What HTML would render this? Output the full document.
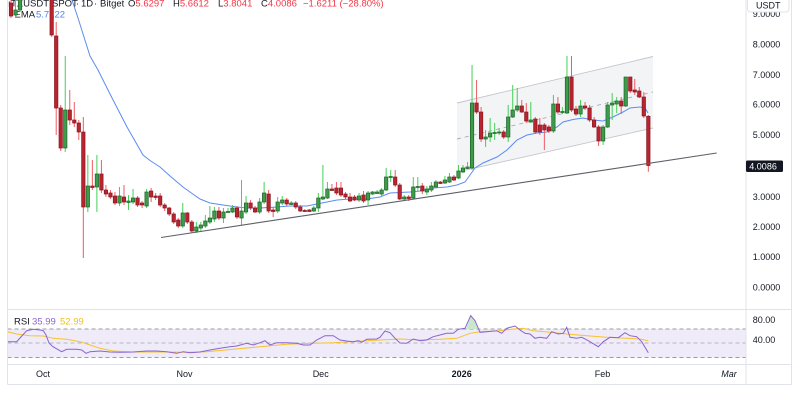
<!DOCTYPE html>
<html><head><meta charset="utf-8">
<style>
html,body{margin:0;padding:0;background:#fff;width:800px;height:400px;overflow:hidden}
svg{display:block;font-family:"Liberation Sans",sans-serif}
</style></head>
<body>
<svg id="s" width="800" height="400" viewBox="0 0 800 400" xmlns="http://www.w3.org/2000/svg">
<defs>
<clipPath id="main"><rect x="7.5" y="0" width="738.5" height="309"/></clipPath>
<clipPath id="rsi"><rect x="7.5" y="310" width="738.5" height="54"/></clipPath>
</defs>
<rect x="0" y="0" width="800" height="400" fill="#fff"/>

<!-- header legend (under candles) -->
<g font-size="9.5" fill="#131722">
<text x="8" y="6.5">ı</text>
<text x="49" y="6.5" text-anchor="end">TXUSDT</text>
<text x="52" y="6.5">SPOT</text>
<text x="76" y="6.5">·</text>
<text x="81" y="6.5">1D</text>
<text x="94" y="6.5">·</text>
<text x="100" y="6.5">Bitget</text>
<text x="128" y="6.5">O<tspan fill="#f23645">5.6297</tspan></text>
<text x="173" y="6.5">H<tspan fill="#f23645">5.6612</tspan></text>
<text x="218" y="6.5">L<tspan fill="#f23645">3.8041</tspan></text>
<text x="261" y="6.5">C<tspan fill="#f23645">4.0086</tspan></text>
<text x="303" y="6.5" fill="#f23645">−1.6211 (−28.80%)</text>
<text x="14.5" y="17.5">EMA</text>
<text x="36" y="17.5" fill="#4f7ff0">5.7122</text>
</g>

<g clip-path="url(#main)">
  <!-- channel -->
  <polygon points="457,103 653,56.5 653,128 457,172" fill="#f3f4f6"/>
  <line x1="457" y1="103" x2="653" y2="56.5" stroke="#c3c5cb" stroke-width="0.9"/>
  <line x1="457" y1="172" x2="653" y2="128" stroke="#c3c5cb" stroke-width="0.9"/>
  <line x1="457" y1="139" x2="653" y2="92" stroke="#a9acb4" stroke-width="0.9" stroke-dasharray="4 4"/>
  <!-- EMA -->
  <polyline fill="none" stroke="#5b8cf2" stroke-width="1" points="72,0 78,18 84,37 90,56 98,70 110,94 127,127 143,155 150,160.5 160,167 170,176 183,187 190,192 200,199 210,203 223,205 237,207 247,208 260,208 277,207 290,206 307,206 317,204 327,202 337,200 350,199 367,199 380,197 390,193 400,192.5 410,192 420,191 433,188 447,187 457,185 465,182 470,175 475,168 483,163 497,157 507,150 517,140 527,135 537,133 547,132 557,127 563,122 573,119.5 583,118 593,120 603,121 613,117 623,112 630,108 640,107 645,108 648,113"/>
  <g id="candles"></g>
  <!-- trend line -->
  <line x1="161" y1="237.5" x2="716.7" y2="153" stroke="#5d6068" stroke-width="1.1"/>
</g>

<!-- RSI pane -->
<g clip-path="url(#rsi)">
  <rect x="7.5" y="329" width="738.5" height="28.5" fill="#efebf8"/>
  <line x1="7.5" y1="329" x2="746" y2="329" stroke="#9a9ca5" stroke-dasharray="4 3"/>
  <line x1="7.5" y1="343" x2="746" y2="343" stroke="#b4b6bd" stroke-dasharray="4 3"/>
  <line x1="7.5" y1="357.5" x2="746" y2="357.5" stroke="#9a9ca5" stroke-dasharray="4 3"/>
  <polygon points="466,329 470.7,315.7 475,320.7 477.5,329" fill="#c9e8cb"/>
  <polyline fill="none" stroke="#f7c32e" stroke-width="1" points="7,331.7 16.7,334 30,335.7 43.3,336 53.3,338.3 66.7,339.3 80,341.7 90,345 100,348.3 113.3,351 133.3,352 166.7,352 186.7,352.3 206.7,351.7 233.3,349.3 260,346.7 286.7,344.3 313.3,343.3 333.3,342.7 366.7,340.7 400,339 420,340 440,339.3 456.7,338.3 470,333.3 480,331.7 500,330.7 513.3,329 523.3,328.3 533.3,330.7 550,332.3 566.7,334 586.7,335.7 606.7,337.3 626.7,338.3 640,339 648.3,340.7"/>
  <polyline fill="none" stroke="#8a64cf" stroke-width="1" points="7,341.7 16.7,341.7 20,338 26.7,330.7 33.3,329.3 40,330 43.3,330.7 46,335 49,343 53,346.7 61.7,351.7 66.7,349.3 76.7,349.3 81.7,350 86,353.3 90,351.7 100,351 110,352 120,352.3 133,352 146.7,351 156.7,351 166.7,351.7 176.7,353.3 183.3,351.7 190,352.7 200,352 210,350 220,348.3 230,346.7 236.7,346 246.7,343.3 253.3,345 260,342.7 265,340.7 270,345 276.7,342.7 286.7,342.7 296.7,343.3 303.3,345 310,345 316.7,340 325,335.7 333.3,335.7 340,340 346.7,341 353.3,341.7 358.3,340.7 361.7,342.3 366.7,339.3 376.7,339 380,337.3 385,331 390,332.7 395,338.3 400,343 406.7,343.3 413.3,339 420,340.7 426.7,340 433.3,336.7 440,335 446.7,333.3 453.3,333.3 458.3,329.3 465,328.3 470.7,315.7 475,320.7 480,332.3 486.7,331.7 496.7,330.7 501.7,333.3 506.7,328.3 515,326 520,330 525,333.3 530,334 535,338.3 540,337.3 546.7,338.3 551.7,331.7 558.3,334 563.3,333.3 566.7,327.3 570,337.3 576.7,338.3 581.7,337.3 588.3,340.7 598.3,346.7 603.3,341.7 610,337.3 618.3,337.7 625,332.7 630,335.7 636.7,336.7 641.7,341.7 648.3,352.7"/>
</g>
<g font-size="9.5">
<text x="14" y="324.5" fill="#131722">RSI</text>
<text x="32" y="324.5" fill="#8a64cf">35.99</text>
<text x="60" y="324.5" fill="#f2bf1f">52.99</text>
</g>

<!-- borders -->
<g stroke="#e0e3eb" stroke-width="1">
<line x1="7.5" y1="0" x2="7.5" y2="384.5"/>
<line x1="746" y1="0" x2="746" y2="384.5"/>
<line x1="791.5" y1="0" x2="791.5" y2="384.5"/>
<line x1="7.5" y1="309.5" x2="791.5" y2="309.5"/>
<line x1="7.5" y1="364.5" x2="791.5" y2="364.5"/>
<line x1="7.5" y1="384.5" x2="791.5" y2="384.5"/>
</g>

<!-- price axis -->
<g font-size="9" fill="#131722">
<text x="752.7" y="17">9.0000</text>
<text x="752.7" y="47.5">8.0000</text>
<text x="752.7" y="78">7.0000</text>
<text x="752.7" y="107.5">6.0000</text>
<text x="752.7" y="138">5.0000</text>
<text x="752.7" y="199.8">3.0000</text>
<text x="752.7" y="229.8">2.0000</text>
<text x="752.7" y="259.8">1.0000</text>
<text x="752.7" y="290.4">0.0000</text>
<text x="752.7" y="323.2">80.00</text>
<text x="752.7" y="343.2">40.00</text>
</g>
<rect x="747.5" y="-3" width="41.5" height="15" rx="3" fill="#fff" stroke="#e0e3eb"/>
<text x="768.3" y="8.5" font-size="9" fill="#131722" text-anchor="middle">USDT</text>
<rect x="746" y="160.5" width="37" height="11.5" rx="1.5" fill="#131722"/>
<text x="749.3" y="169.5" font-size="9" fill="#fff">4.0086</text>

<!-- time axis -->
<g font-size="9" fill="#131722" text-anchor="middle">
<text x="43" y="377">Oct</text>
<text x="184.5" y="377">Nov</text>
<text x="320.7" y="377">Dec</text>
<text x="461.7" y="377" font-weight="bold">2026</text>
<text x="602.5" y="377">Feb</text>
<text x="729" y="377" font-style="italic">Mar</text>
</g>
</svg>
<script>
(function(){
var d=[
['r',3,16,0,18],['g',10,15,0,18],['g',-5,10,-10,12],['g',-40,-10,-50,-5],['r',-40,-20,-50,-15],['g',-60,-30,-70,-25],['r',-60,-30,-70,-25],['g',-70,-40,-80,-35],['r',-70,-20,-80,-15],
['r',-20,35,-30,37],['r',36,108,22,135],['r',108,148,105,151],['g',110,148,56,152],['r',110,120,90,125],['r',120,123,102,127],['r',123,132,120,140],['r',132,207,117,258],['g',186,207,155,212],['r',186,187.5,160,190],['g',174,187,155,212],
['r',174,190,160,193],['r',190,194,185,197],['r',193,197,190,199],['r',196,203,192,205],['g',196,203,187,206],['r',197,202,185,205],['g',201,202.5,195,210],['g',198,202,189,204],['r',198,205,196,207],['r',203,205,201,208],
['g',192,206,189,208],['r',191,197,188,202],['r',196,197.5,193,200],['r',196,205,193,207],['r',205,208,203,211],['r',208,214,207,216],['r',214,222,212,224],['r',220,226,218,228],['g',213,226,203,228],['r',213,222,212,224],
['r',222,231,220,233],['g',227,231,222,233],['g',225,228,222,232],['g',221,226,215,228],['g',218,222,206,224],['g',211,219,207,222],['r',211,218,207,220],['g',212,218,208,223],['g',211.5,212.5,208,213],['g',208,212,205,213],
['r',208,217,206,219],['g',211,218,180,225],['g',203,212,196,214],['r',203,208,200,210],['r',208,212,206,213],['g',202,212,198,214],['g',193,202,182,204],['r',194,211,190,213],['r',210,211.5,207,217],['g',202,211,197,213],
['g',200,203,196,205],['r',200,204,198,206],['g',203,204.5,201,205],['r',203,207,201,209],['r',207,211,205,212],['r',210.5,211.5,209,212],['r',210,211.5,209,212],['g',208,211,206,212],['g',198,208,193,212],['g',197,199,165,200],
['g',189,198,182,199],['r',189,190.5,184,191],['r',188,193,182,195],['r',188,195,182,197],['r',194,197,192,199],['r',197,201,193,202],['r',197,200,195,201],['g',196,200,193,202],['r',195,201,191,203],['g',193,200,191,205],
['g',192,194,191,195],['g',192,193.5,190,194],['g',190,194,188,196],['g',177,190,168,191],['g',176.5,177.5,170,182],['r',177,185,170,187],['r',185,199,183,200],['g',197,199,195,200],['r',197,198.5,195,201],['g',187,198,177,199],
['g',186.5,187.5,177,192],['r',186,191,183,194],['g',189,192,186,195],['g',186,190,182,192],['g',182,187,180,188],['r',182,183.5,181,184],['g',180,183,176,184],['g',177,182,173,183],['r',177,180,175,181],['g',171,178,165,179],
['g',168,172,165,173],['g',167,168.5,162,169],['g',103,168,65,170],['r',103,112,80,114],['r',112,139,107,142],['g',137,139,130,147],['g',133,137,118,142],['g',132.5,133.5,123,140],['g',132,133,128,135],['r',132,137,130,139],
['g',117,137,105,142],['g',110,117,85,118],['g',106,110,88,112],['r',106,112,100,113],['r',112,121,103,123],['g',120,122,102,123],['r',119,132,117,134],['r',125,132,118,135],['r',125,130,123,150],['r',127,131,125,133],
['g',104,131,95,133],['r',104,112,97,114],['g',111.5,112.5,107,114],['g',77,113,56,114],['r',77,110,56,112],['r',109,114,106,116],['g',106,114,100,117],['r',106,108,102,110],['r',108,120,105,122],['r',120,127,117,128],
['r',127,141,125,146],['g',127,141,125,145],['g',105,127,102,128],['g',103,105,93,120],['g',101,104,97,113],['r',101,106,97,114],['g',77,106,77,107],['r',77,91,77,93],['r',90,92,79,95],['r',91,97,87,98],
['r',97,116,92,118],['r',116.3,165.5,115,171.8]
];
var g=document.getElementById('candles'),h='';
for(var i=0;i<d.length;i++){
 var c=d[i],x=11+4.52*i,red=c[0]==='r';
 var wc=red?'#ef5a62':'#45cf55',bf=red?'#b8242f':'#3d9c4a',bs=red?'#8a1822':'#1f632b';
 h+='<line x1="'+x.toFixed(2)+'" y1="'+c[3]+'" x2="'+x.toFixed(2)+'" y2="'+c[4]+'" stroke="'+wc+'" stroke-width="1"/>';
 var t=c[1],b=c[2],ht=Math.max(b-t,1);
 h+='<rect x="'+(x-1.7).toFixed(2)+'" y="'+t+'" width="3.4" height="'+ht+'" fill="'+bf+'" stroke="'+bs+'" stroke-width="0.7"/>';
}
g.innerHTML=h;
})();
</script>
</body></html>
